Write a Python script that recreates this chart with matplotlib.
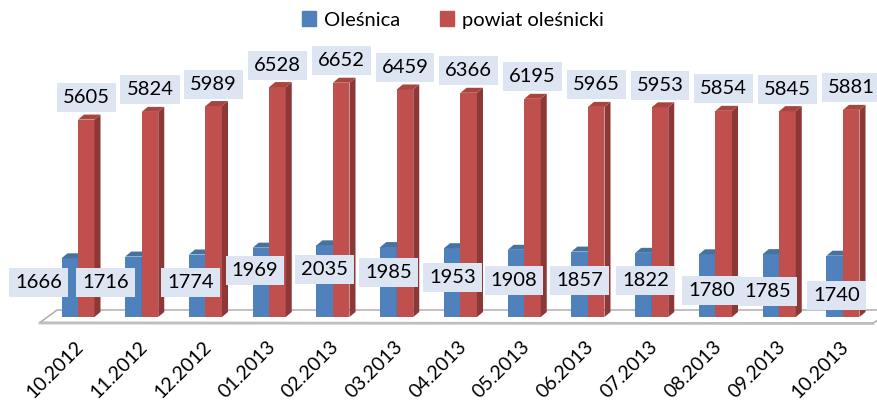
import matplotlib
matplotlib.use("Agg")
from matplotlib import pyplot as plt
from matplotlib.patches import Polygon, Patch
import numpy as np

plt.rcParams['font.family'] = ['Lato', 'DejaVu Sans']

months = ["10.2012", "11.2012", "12.2012", "01.2013", "02.2013", "03.2013", "04.2013",
          "05.2013", "06.2013", "07.2013", "08.2013", "09.2013", "10.2013"]
olesnica = [1666, 1716, 1774, 1969, 2035, 1985, 1953, 1908, 1857, 1822, 1780, 1785, 1740]
powiat = [5605, 5824, 5989, 6528, 6652, 6459, 6366, 6195, 5965, 5953, 5854, 5845, 5881]

# label nudges for the blue series (pixels), Excel shuffled them around
blue_dx = [-31, -28, -7, -6, 0, 0, 0, -2, 0, 2, 4, -3, 2]
blue_dy = [-24, -26, -28, -23, -24, -25, -29, -31, -29, -28, -36, -37, -40]

W, H = 878, 401
fig = plt.figure(figsize=(W / 100, H / 100), dpi=100)
base_px = 317
ax = fig.add_axes([0, 1 - base_px / H, 1, base_px / H])
ax.set_xlim(-78 / 63.75, 800 / 63.75)
ax.set_ylim(0, 9000)
ax.axis('off')

# pixel -> data helpers for the fake 3d depth
px_x = (ax.get_xlim()[1] - ax.get_xlim()[0]) / W
px_y = 9000 / base_px
dep_x, dep_y = 6 * px_x, 5 * px_y

w = 16.5 / 63.75
x = np.arange(len(months))

# floor
def fp(px, py):
    return ((px - 78) / 63.75, (base_px - py) * px_y)

floor = Polygon([fp(40, 322.5), fp(57, 310), fp(895, 310), fp(873, 323)], closed=True,
                facecolor='white', edgecolor='#a6a6a6', lw=1.0, clip_on=False, zorder=1)
ax.add_patch(floor)
ax.plot([fp(40, 323)[0], fp(873, 323.5)[0]], [fp(40, 323)[1], fp(873, 323.5)[1]],
        color='#bfbfbf', lw=2, clip_on=False, zorder=1)

def bar3d(x0, h, front, side, top):
    ax.bar(x0, h, width=w, align='edge', color=front, zorder=3)
    ax.add_patch(Polygon([(x0 + w, 0), (x0 + w + dep_x, dep_y), (x0 + w + dep_x, h + dep_y), (x0 + w, h)],
                         facecolor=side, edgecolor='none', zorder=3))
    ax.add_patch(Polygon([(x0, h), (x0 + dep_x, h + dep_y), (x0 + w + dep_x, h + dep_y), (x0 + w, h)],
                         facecolor=top, edgecolor='none', zorder=3))

for i in range(len(months)):
    bar3d(x[i] - w, olesnica[i], '#4f81bd', '#3b6494', '#45729f')
    bar3d(x[i], powiat[i], '#c0504d', '#8c3836', '#a84541')

box = dict(boxstyle='square,pad=0.3', facecolor='#dde5f2', edgecolor='none')
for i in range(len(months)):
    ax.annotate(str(powiat[i]), (x[i] + w / 2, powiat[i]), xytext=(0, 22 * 0.72),
                textcoords='offset points', ha='center', va='center', fontsize=14.5,
                bbox=box, zorder=5)
    ax.annotate(str(olesnica[i]), (x[i] - w / 2, olesnica[i]),
                xytext=(blue_dx[i] * 0.72, blue_dy[i] * 0.72),
                textcoords='offset points', ha='center', va='center', fontsize=14.5,
                bbox=box, zorder=5)

# month labels
for i in range(len(months)):
    ax.annotate(months[i], (x[i], 0), xytext=(-3 * 0.72, -21 * 0.72), textcoords='offset points',
                rotation=45, ha='right', va='top', rotation_mode='anchor', fontsize=14,
                annotation_clip=False)

handles = [Patch(color='#4f81bd'), Patch(color='#c0504d')]
fig.legend(handles, ['Oleśnica', 'powiat oleśnicki'], loc='center', ncol=2,
           bbox_to_anchor=(453 / W, 1 - 20 / H), frameon=False, fontsize=14.5,
           handlelength=0.7, handleheight=0.7, handletextpad=0.4, columnspacing=2.0)

fig.savefig('out.png', dpi=100)
